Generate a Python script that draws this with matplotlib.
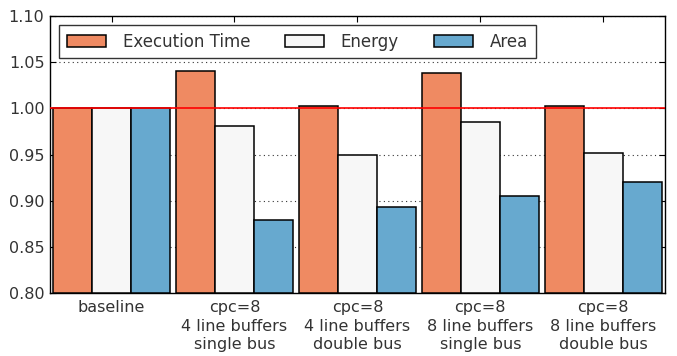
import numpy as np
import matplotlib
matplotlib.use("Agg")
import matplotlib.pyplot as plt

groups = ["baseline",
          "cpc=8\n4 line buffers\nsingle bus",
          "cpc=8\n4 line buffers\ndouble bus",
          "cpc=8\n8 line buffers\nsingle bus",
          "cpc=8\n8 line buffers\ndouble bus"]
exec_time = [1.000, 1.040, 1.003, 1.038, 1.002]
energy = [1.000, 0.981, 0.950, 0.985, 0.952]
area = [1.000, 0.879, 0.893, 0.905, 0.920]

series = [("Execution Time", exec_time, "#ef8a62"),
          ("Energy", energy, "#f7f7f7"),
          ("Area", area, "#67a9cf")]

plt.rcParams["font.family"] = "DejaVu Sans"
plt.rcParams["text.color"] = "#333333"

fig = plt.figure(figsize=(6.77, 3.56), dpi=100)
ax = fig.add_axes([0.0739, 0.177, 0.908, 0.778])

x = np.arange(len(groups))
w = 0.317
for i, (name, vals, col) in enumerate(series):
    ax.bar(x + (i - 1) * w, np.array(vals) - 0.8, w, bottom=0.8, color=col,
           edgecolor="black", linewidth=1.1, label=name, zorder=3)

ax.axhline(1.0, color="red", linewidth=1.2, zorder=4)

ax.set_ylim(0.80, 1.10)
ax.set_xlim(-0.5, 4.5)
ax.set_yticks(np.arange(0.80, 1.101, 0.05))
ax.set_yticklabels(["%.2f" % v for v in np.arange(0.80, 1.101, 0.05)])
ax.set_xticks(x)
ax.set_xticklabels(groups, linespacing=1.3)
ax.yaxis.grid(True, linestyle=(0, (1, 3)), color="#333333", linewidth=0.8, zorder=0)
ax.set_axisbelow(True)

ax.tick_params(axis="both", direction="in", top=True, right=True, length=4,
               labelsize=11.5, labelcolor="#333333", pad=4)
ax.tick_params(axis="x", length=4, pad=5)
for s in ax.spines.values():
    s.set_linewidth(1.0)

leg = ax.legend(loc="upper left", ncol=3, fontsize=12, frameon=True, fancybox=False,
                edgecolor="black", borderaxespad=0.55, columnspacing=2.1,
                handlelength=2.35, handleheight=0.8, handletextpad=1.0,
                borderpad=0.45)
leg.get_frame().set_linewidth(1.0)
for t in leg.get_texts():
    t.set_color("#333333")

fig.savefig("out.png", dpi=100)
